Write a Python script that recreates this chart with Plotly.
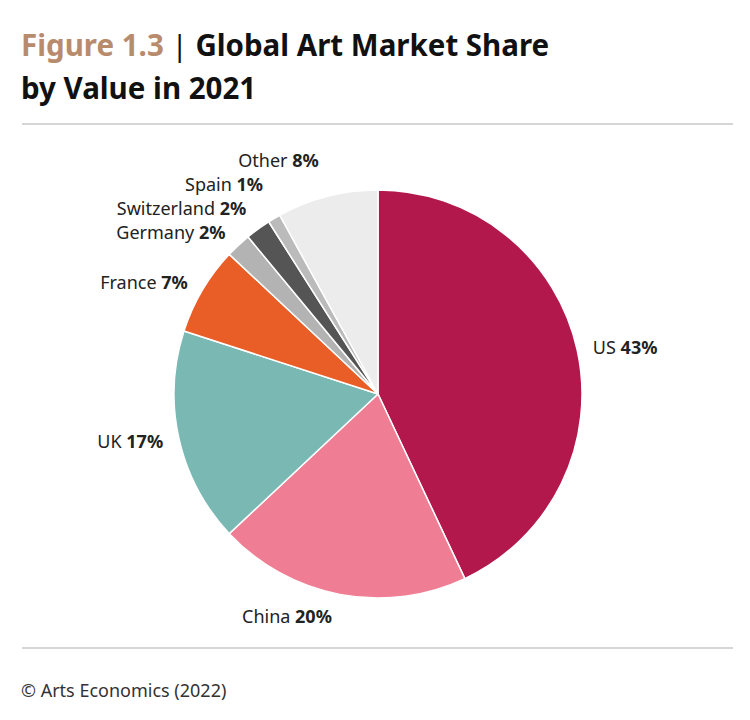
import plotly.graph_objects as go

countries = ["US", "China", "UK", "France", "Germany", "Switzerland", "Spain", "Other"]
shares = [43, 20, 17, 7, 2, 2, 1, 8]
colors = ["#b3184d", "#ef7d93", "#7ab8b4", "#e95d27", "#b3b3b3", "#555555", "#bbbbbb", "#ececec"]

W, H = 750, 720
OFF = 8  # page body margin
cx, cy, r = 378 - OFF, 394 - OFF, 204
r_lab = 214  # radius used to place the outside labels


def dom(rad):
    return dict(x=[(cx - rad) / W, (cx + rad) / W], y=[1 - (cy + rad) / H, 1 - (cy - rad) / H])


pie = go.Pie(
    labels=countries, values=shares, sort=False, direction="clockwise", rotation=0,
    marker=dict(colors=colors, line=dict(color="white", width=1.5)),
    textinfo="none", hoverinfo="label+percent", showlegend=False, domain=dom(r),
)

labels_pie = go.Pie(
    labels=countries, values=shares, sort=False, direction="clockwise", rotation=0,
    marker=dict(colors=["rgba(255,255,255,0)"] * len(shares), line=dict(width=0)),
    texttemplate="<span style='color:#222222'>%{label} <b>%{value}%</b></span>",
    textposition="outside",
    outsidetextfont=dict(family="Noto Sans", size=18, color="#ffffff"),
    hoverinfo="skip", showlegend=False, domain=dom(r_lab),
)

fig = go.Figure([labels_pie, pie])

fig.update_layout(
    width=W, height=H,
    margin=dict(l=0, r=0, t=0, b=0),
    paper_bgcolor="white", plot_bgcolor="white",
    annotations=[
        dict(
            text="<b><span style='color:#b98b6d'>Figure 1.3</span></b> | <b>Global Art Market Share</b>",
            x=11 / W, y=1 - 14 / H, xref="paper", yref="paper",
            xanchor="left", yanchor="top", align="left", showarrow=False,
            font=dict(family="Noto Sans", size=29.5, color="#111111"),
        ),
        dict(
            text="<b>by Value in 2021</b>",
            x=11 / W, y=1 - 57 / H, xref="paper", yref="paper",
            xanchor="left", yanchor="top", align="left", showarrow=False,
            font=dict(family="Noto Sans", size=29.5, color="#111111"),
        ),
        dict(
            text="© Arts Economics (2022)",
            x=11 / W, y=1 - 682 / H, xref="paper", yref="paper",
            xanchor="left", yanchor="middle", align="left", showarrow=False,
            font=dict(family="Noto Sans", size=18, color="#333333"),
        ),
    ],
    shapes=[
        dict(type="line", xref="paper", yref="paper", x0=14 / W, x1=725 / W,
             y0=1 - 116 / H, y1=1 - 116 / H, line=dict(color="#c8c8c8", width=1.5)),
        dict(type="line", xref="paper", yref="paper", x0=14 / W, x1=725 / W,
             y0=1 - 640 / H, y1=1 - 640 / H, line=dict(color="#c8c8c8", width=1.5)),
    ],
)

fig.write_html("out.html")
